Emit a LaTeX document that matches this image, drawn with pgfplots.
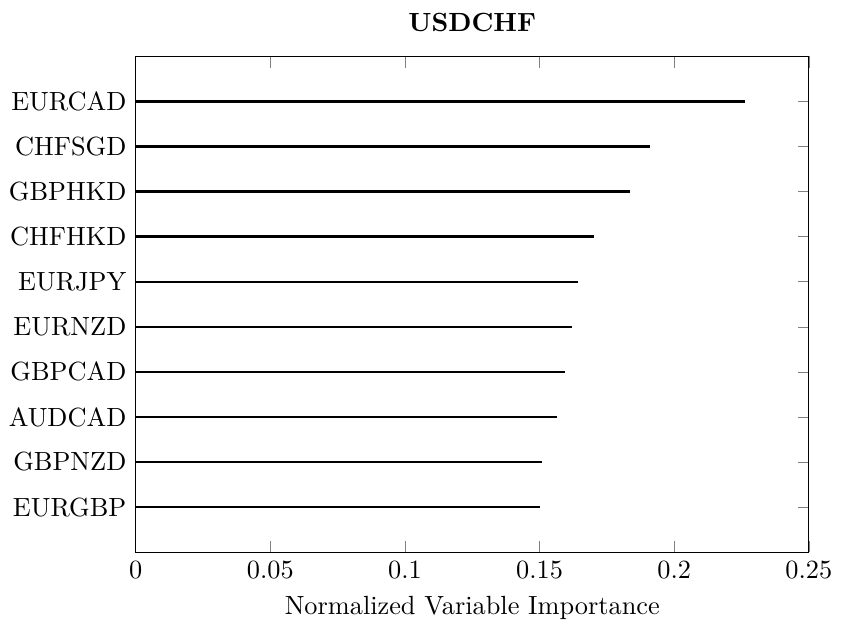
\documentclass[border=0pt]{standalone}
\usepackage{pgfplots}
\pgfplotsset{compat=1.18}
\begin{document}
\begin{tikzpicture}
\begin{axis}[
  scale only axis,
  width=256pt, height=188.5pt,
  title={\textbf{USDCHF}},
  xlabel={Normalized Variable Importance},
  xmin=0, xmax=0.25,
  ymin=-1, ymax=10,
  xtick={0,0.05,0.1,0.15,0.2,0.25},
  ytick={0,1,2,3,4,5,6,7,8,9},
  yticklabels={EURGBP,GBPNZD,AUDCAD,GBPCAD,EURNZD,EURJPY,CHFHKD,GBPHKD,CHFSGD,EURCAD},
  /pgf/number format/fixed,
  scaled x ticks=false,
]
\addplot[xcomb, black, line width=0.9pt] coordinates {
(0.1500,0) (0.1509,1) (0.1563,2) (0.1596,3) (0.1621,4) (0.1644,5) (0.1703,6) (0.1836,7) (0.1911,8) (0.2262,9)
};
\end{axis}
\path ([yshift=1.5pt]current bounding box.north) -- ([yshift=-2pt]current bounding box.south);
\end{tikzpicture}
\end{document}
